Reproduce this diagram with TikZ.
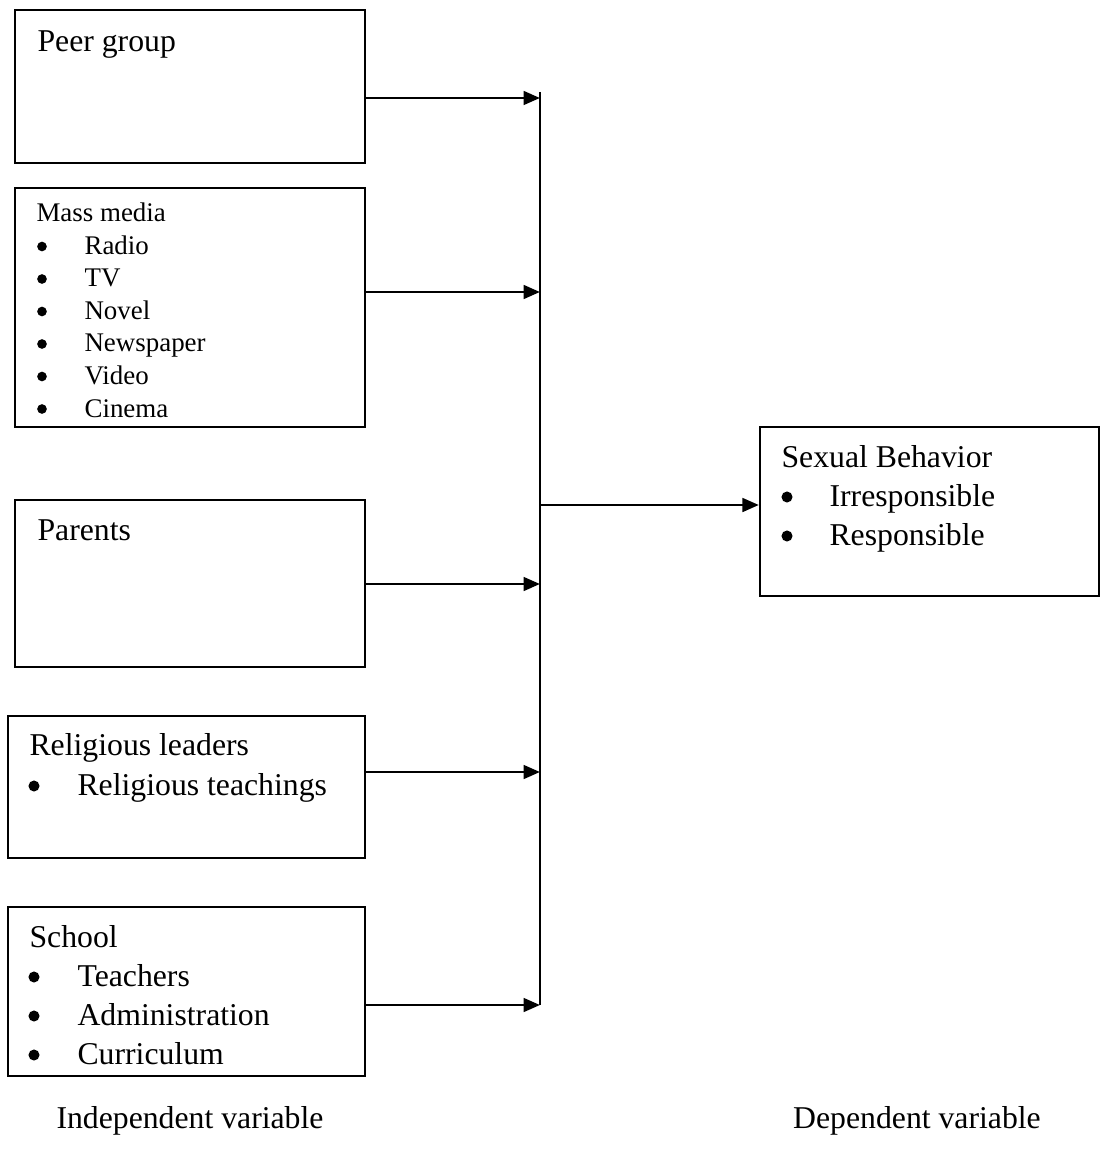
\documentclass[tikz,border=0pt]{standalone}
\usepackage{fontspec}
\setmainfont{Liberation Serif}
\usetikzlibrary{arrows.meta,fit}

\begin{document}
\begin{tikzpicture}
        [x=0.353pt, y=-0.353pt,
        box/.style={draw, line width=0.8pt, inner sep=0pt},
        txt/.style={anchor=base west, inner sep=0pt, font=\fontsize{11.2}{13}\selectfont},
        small/.style={anchor=base west, inner sep=0pt, font=\fontsize{9.5}{11}\selectfont},
        dot/.style={circle, fill, inner sep=0pt, minimum size=3.9pt},
        smalldot/.style={circle, fill, inner sep=0pt, minimum size=3.4pt},
        conn/.style={line width=1pt, -{Triangle[length=5.8pt,width=4.8pt]}}]
        \useasboundingbox (0,0) rectangle (1100,1163);

        % boxes
        \node[box, fit={(15,10) (365,163)}] (peer) {};
        \node[box, fit={(15,188) (365,427)}] (media) {};
        \node[box, fit={(15,500) (365,667)}] (parents) {};
        \node[box, fit={(8,716) (365,858)}] (religion) {};
        \node[box, fit={(8,907) (365,1076)}] (school) {};
        \node[box, fit={(760,427) (1099,596)}] (behavior) {};

        % texts
        \node[txt] (peerT) at (37,52) {Peer group};
        \node[small] (mediaT) at (36,222) {Mass media};
        \foreach \t [count=\i] in {Radio, TV, Novel, Newspaper, Video, Cinema} {
            \node[smalldot] (mediaB\i) at (42,214+32.5*\i) {};
            \node[small] (mediaI\i) at (84,222+32.5*\i) {\t};
        }
        \node[txt] (parentsT) at (37,540) {Parents};
        \node[txt] (religionT) at (29,755) {Religious leaders};
        \node[dot] (religionB) at (34,786) {};
        \node[txt] (religionI) at (77,795) {Religious teachings};
        \node[txt] (schoolT) at (29,947) {School};
        \foreach \t [count=\i] in {Teachers, Administration, Curriculum} {
            \node[dot] (schoolB\i) at (34,938+39*\i) {};
            \node[txt] (schoolI\i) at (77,947+39*\i) {\t};
        }
        \node[txt] (behaviorT) at (781,467) {Sexual Behavior};
        \foreach \t [count=\i] in {Irresponsible, Responsible} {
            \node[dot] (behaviorB\i) at (787,458+39*\i) {};
            \node[txt] (behaviorI\i) at (829,467+39*\i) {\t};
        }
        \node[txt, anchor=base] (indep) at (190,1128) {Independent variable};
        \node[txt, anchor=base] (dep) at (917,1128) {Dependent variable};

        % connectors
        \coordinate (top) at (540,92);
        \coordinate (bot) at (540,1005);
        \coordinate (p1) at (540,98);
        \coordinate (p2) at (540,292);
        \coordinate (p3) at (540,584);
        \coordinate (p4) at (540,772);
        \coordinate (out) at (540,505);
        \draw[line width=1pt] (top) -- (bot);
        \draw[conn] (peer.east |- p1) -- (p1);
        \draw[conn] (media.east |- p2) -- (p2);
        \draw[conn] (parents.east |- p3) -- (p3);
        \draw[conn] (religion.east |- p4) -- (p4);
        \draw[conn] (school.east |- bot) -- (bot);
        \draw[conn] (out) -- (behavior.west |- out);

    \end{tikzpicture}
\end{document}
